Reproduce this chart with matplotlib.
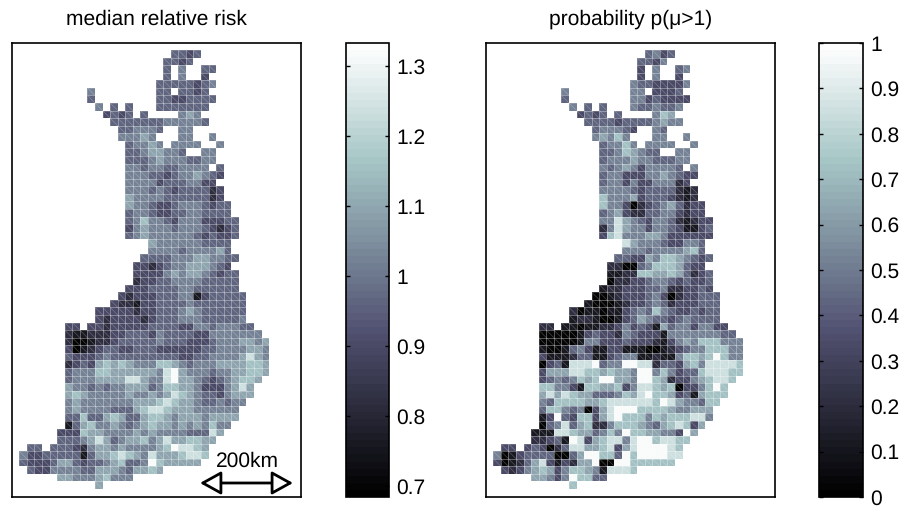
import numpy as np
import matplotlib
matplotlib.use("Agg")
import matplotlib.pyplot as plt
from matplotlib.collections import LineCollection

plt.rcParams['font.family'] = ['Liberation Sans', 'DejaVu Sans']
plt.rcParams['text.hinting'] = 'none'
plt.rcParams['text.hinting_factor'] = 1

W, H = 901, 511
# fraction of the colour range for each shade digit
level_fraction = [0.02, 0.11, 0.21, 0.33, 0.43, 0.53, 0.63, 0.73, 0.85, 0.97]
risk_range = (0.684, 1.333)
prob_range = (0.0, 1.0)
risk_ticks = [0.7, 0.8, 0.9, 1.0, 1.1, 1.2, 1.3]
prob_ticks = [0, 0.1, 0.2, 0.3, 0.4, 0.5, 0.6, 0.7, 0.8, 0.9, 1]
risk_ticklabels = ['0.7', '0.8', '0.9', '1', '1.1', '1.2', '1.3']
prob_ticklabels = ['0', '0.1', '0.2', '0.3', '0.4', '0.5', '0.6', '0.7', '0.8', '0.9', '1']

# median relative risk, one string per map row; digit = shade level 0-9, '.' = no data
risk_rows = [
"....................4434",
"...................4434",
"...................4.5..44",
"...................4.5..3",
"..................44444345",
".........5........44.4434",
".........4........44334444",
"..........5.4.4...4444444",
"...........3434.4....565",
"............4444444555554",
".............445554..55",
".............55565...55..5",
"..............45565.5555..5",
"..............44566554..55",
"..............444565554455",
"..............55455445555.4",
"..............5554434556543",
"..............555534445533",
"..............5554543444423",
"..............6555544444423",
"..............65543345554344",
"..............45543344554444",
"..............457554355533344",
"..............356555455543234",
"..............456555555434334",
".................65555554444",
".................55554555564",
"................4444555665544",
"...............3323455666543",
"...............33335656654344",
"...............23344555544444",
"..............333444455444444",
".............32333444551344444",
"............322133444454444444",
"..........33333233444565444444",
"..........32333323444555444445",
"......33.3323333344443355455544",
"......21122233444354444335555555",
"......200122344444544433345556656",
"......301234433444333333445555665",
"......433345444444444334455556865",
"......234367676555776545556666776",
"......455577666666589655545566776",
"......45556666886558966543456776",
"......6554545566645776653335686",
"......6765555565565687654435666",
"......565555555666787665445455",
"......56555544467887666555555",
"......44744676446776566656666",
"......1467556545676656565755",
".....3337665555656555544486",
".....444568645667568667766",
".44.444325665655556798876",
"5334444414667876586667887",
"433346643445674459766666",
".433555544666546676",
".....6655567555",
"..........6",
]

# probability p(mu>1), same layout
prob_rows = [
"....................4534",
"...................4435",
"...................3.5..45",
"...................3.5..3",
"..................54433335",
".........5........55.3334",
".........4........55343333",
"..........5.4.4...5445445",
"...........3434.4....576",
"............4444344445655",
".............455543..54",
".............56575...55..5",
"..............45575.5555..5",
"..............44576544..55",
"..............455565544455",
"..............54565355554.5",
"..............4553335565433",
"..............455353355523",
"..............5555434444212",
"..............7555634443212",
"..............75530234564233",
"..............45632244553233",
"..............558654355421233",
"..............258655355431134",
"..............378555665333333",
".................86555433554",
".................55545555674",
"................4433657765434",
"...............2200457776433",
"...............11227766764234",
"...............02233455434334",
"..............122333445223343",
".............00123334530233444",
"............100012334542333444",
"..........20110113454754334344",
"..........12210013465443454444",
"......22.1101122353431645535533",
"......00000134332543331555555544",
"......000001553334333213565777555",
"......100145311331110012345577755",
"......311124411345511211577679755",
"......034188894559988244367588887",
"......366688776766599575344788877",
"......34545767996659976233567887",
"......7755317766735887670335797",
"......6868766444576897763416777",
"......547777667888888798655477",
"......47754503689997777655666",
"......13943773689777576777885",
"......0458467225777654678736",
".....1118876645759776655396",
".....223419836788589978877",
".33.343024886678368999987",
"5013444400469977497999988",
"301246831326690099777777",
".323567635776518887",
".....6653597744",
"..........7",
]


def decode(rows, lo, hi):
    ncol = 33
    out = np.full((len(rows), ncol), np.nan)
    for r, s in enumerate(rows):
        for c, ch in enumerate(s[:ncol]):
            if ch != '.':
                out[r, c] = lo + (hi - lo) * level_fraction[int(ch)]
    return np.ma.masked_invalid(out)


def px_axes(x0, y0, x1, y1):
    return fig.add_axes([x0 / W, 1 - y1 / H, (x1 - x0) / W, (y1 - y0) / H])


cmap = plt.get_cmap('bone', 64)
fig = plt.figure(figsize=(W / 100, H / 100), dpi=100)
CELL = 7.57
GRID_X0 = 7.3   # px from axes edge to first column
GRID_Y0 = 7.0


def draw_map(ax, data, rng, title):
    n_r, n_c = data.shape
    ax.pcolormesh(np.arange(n_c + 1), np.arange(n_r + 1), data, cmap=cmap,
                  vmin=rng[0], vmax=rng[1], linewidth=0, antialiased=True)
    segs, diag = [], []
    for r, c in zip(*np.where(~np.ma.getmaskarray(data))):
        segs += [[(c, r), (c + 1, r)], [(c, r + 1), (c + 1, r + 1)],
                 [(c, r), (c, r + 1)], [(c + 1, r), (c + 1, r + 1)]]
        diag.append([(c, r), (c + 1, r + 1)])
    ax.add_collection(LineCollection(segs, colors=[(1, 1, 1, 0.22)], linewidths=0.6))
    ax.add_collection(LineCollection(diag, colors=[(1, 1, 1, 0.25)], linewidths=0.5))
    bb = ax.get_position()
    wpx, hpx = bb.width * W, bb.height * H
    x_lo = -GRID_X0 / CELL
    y_lo = -GRID_Y0 / CELL
    ax.set_xlim(x_lo, x_lo + wpx / CELL)
    ax.set_ylim(y_lo + hpx / CELL, y_lo)
    ax.set_xticks([])
    ax.set_yticks([])
    for sp in ax.spines.values():
        sp.set_linewidth(1.2)
    ax.set_title(title, fontsize=15, pad=13)


def draw_bar(cax, rng, ticks, labels):
    sm = plt.cm.ScalarMappable(cmap=cmap, norm=plt.Normalize(*rng))
    cb = fig.colorbar(sm, cax=cax)
    cb.set_ticks(ticks)
    cb.set_ticklabels(labels)
    cb.outline.set_linewidth(1.2)
    cax.tick_params(axis='y', direction='in', left=True, right=True, length=3,
                    width=1, labelsize=15, pad=5)


ax1 = px_axes(12, 43, 301, 497)
ax2 = px_axes(486, 43, 775, 497)
cb1 = px_axes(346, 43, 389, 497)
cb2 = px_axes(819, 43, 863, 497)

draw_map(ax1, decode(risk_rows, *risk_range), risk_range, 'median relative risk')
draw_map(ax2, decode(prob_rows, *prob_range), prob_range, 'probability p(\u03bc>1)')
draw_bar(cb1, risk_range, risk_ticks, risk_ticklabels)
draw_bar(cb2, prob_range, prob_ticks, prob_ticklabels)

ax1.annotate('', xy=(200, H - 483), xytext=(293, H - 483), xycoords='figure pixels',
             textcoords='figure pixels',
             arrowprops=dict(arrowstyle='<|-|>,head_length=1.3,head_width=0.72', fc='white',
                             ec='black', lw=2.0, shrinkA=0, shrinkB=0))
ax1.text(247 / W, 1 - 461 / H, '200km', transform=fig.transFigure, ha='center', va='center',
         fontsize=15)

fig.savefig('out.png', dpi=100)
